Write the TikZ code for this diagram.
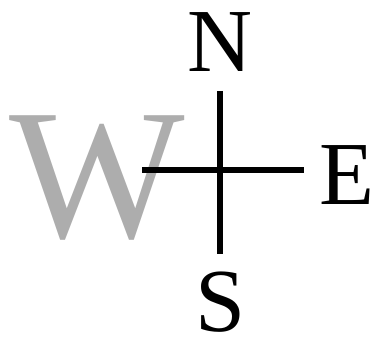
\documentclass[tikz,border=0pt]{standalone}
\usepackage{fontspec}
\setmainfont{Liberation Serif}
\definecolor{wgray}{HTML}{ADADAD}
\tikzset{
  letter/.style={inner sep=0pt, anchor=center, text=black, font=\fontsize{90}{90}\selectfont},
  bigletter/.style={inner sep=0pt, anchor=center, text=wgray, font=\fontsize{186}{186}\selectfont},
  armline/.style={line width=6.5pt, draw=black, line cap=butt}
}
\begin{document}
\begin{tikzpicture}[x=1pt,y=-1pt]
\useasboundingbox (0,0) rectangle (374,342);
\node[bigletter] (w) at (97,178) {W};
\node[letter] (n) at (220,42) {N};
\node[letter] (e) at (347,175) {E};
\node[letter] (s) at (221,302) {S};
\coordinate (west) at (142,170);
\coordinate (east) at (304,170);
\coordinate (north) at (220,91);
\coordinate (south) at (220,254);
\draw[armline] (west) -- (east);
\draw[armline] (north) -- (south);
\end{tikzpicture}
\end{document}
